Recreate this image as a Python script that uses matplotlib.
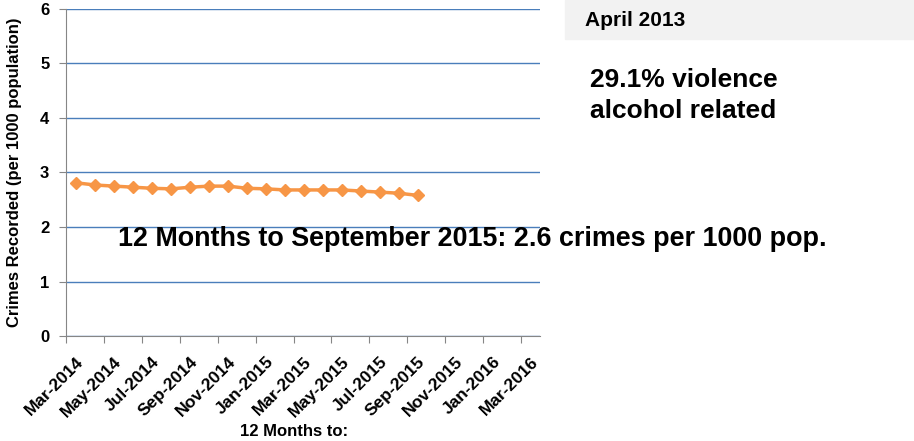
import numpy as np
import matplotlib
matplotlib.use("Agg")
import matplotlib.pyplot as plt
from matplotlib.patches import Rectangle
from matplotlib.transforms import ScaledTranslation

plt.rcParams['font.family'] = ['Liberation Sans', 'DejaVu Sans']

# months along the date axis (one tick every two months)
tick_labels = ['Mar-2014', 'May-2014', 'Jul-2014', 'Sep-2014', 'Nov-2014', 'Jan-2015',
               'Mar-2015', 'May-2015', 'Jul-2015', 'Sep-2015', 'Nov-2015', 'Jan-2016', 'Mar-2016']
# 12 months to ... Mar-2014 through Sep-2015
rate = [2.81, 2.77, 2.75, 2.73, 2.71, 2.70, 2.73, 2.75, 2.75, 2.71,
        2.70, 2.68, 2.68, 2.68, 2.68, 2.66, 2.64, 2.62, 2.58]

W, H = 914, 441
fig = plt.figure(figsize=(W / 100, H / 100), dpi=100)
ax = fig.add_axes([66 / W, 1 - 336 / H, 474 / W, 327 / H])

x = np.arange(len(rate)) + 0.55
ax.plot(x, rate, color='#f79646', lw=2.5, marker='D', ms=6, mec='#f79646', zorder=3)

ax.set_xlim(0, 25)
ax.set_ylim(0, 6)
ax.set_yticks(range(7))
ax.set_yticklabels([str(v) for v in range(7)], fontsize=12, fontweight='bold')
ax.grid(axis='y', color='#4a7ebb', lw=1)
ax.set_axisbelow(True)
for s in ['top', 'right']:
    ax.spines[s].set_visible(False)
for s in ['left', 'bottom']:
    ax.spines[s].set_color('#868686')
ax.tick_params(axis='x', color='#868686', length=5, direction='out', pad=8)
ax.tick_params(axis='y', color='#868686', length=5, direction='out', pad=7)

# x labels: rotated, nudged right like the original date axis
ax.set_xticks(np.arange(len(tick_labels)) * 2)
ax.set_xticklabels(tick_labels, rotation=45, ha='right', va='top', rotation_mode='anchor',
                   fontsize=12.5, fontweight='bold')
shift = ScaledTranslation(0.10, 0, fig.dpi_scale_trans)
for lab in ax.get_xticklabels():
    lab.set_transform(lab.get_transform() + shift)

ax.set_ylabel('Crimes Recorded (per 1000 population)', fontsize=12, fontweight='bold')
ax.yaxis.set_label_coords(-0.093, 0.5)
ax.set_xlabel('12 Months to:', fontsize=12, fontweight='bold')
ax.xaxis.set_label_coords(0.481, -0.269)

# side panel
fig.patches.append(Rectangle((565 / W, 1 - 39 / H), 1, 39 / H,
                             transform=fig.transFigure, color='#f2f2f2', zorder=0))
fig.text(585 / W, 1 - 26 / H, 'April 2013', fontsize=15, fontweight='bold', va='baseline')
fig.text(590 / W, 1 - 87 / H, '29.1% violence', fontsize=19, fontweight='bold', va='baseline')
fig.text(590 / W, 1 - 118 / H, 'alcohol related', fontsize=19, fontweight='bold', va='baseline')

fig.text(118 / W, 1 - 246 / H, '12 Months to September 2015: 2.6 crimes per 1000 pop.',
         fontsize=19.4, fontweight='bold', va='baseline')

fig.savefig('out.png', dpi=100)
